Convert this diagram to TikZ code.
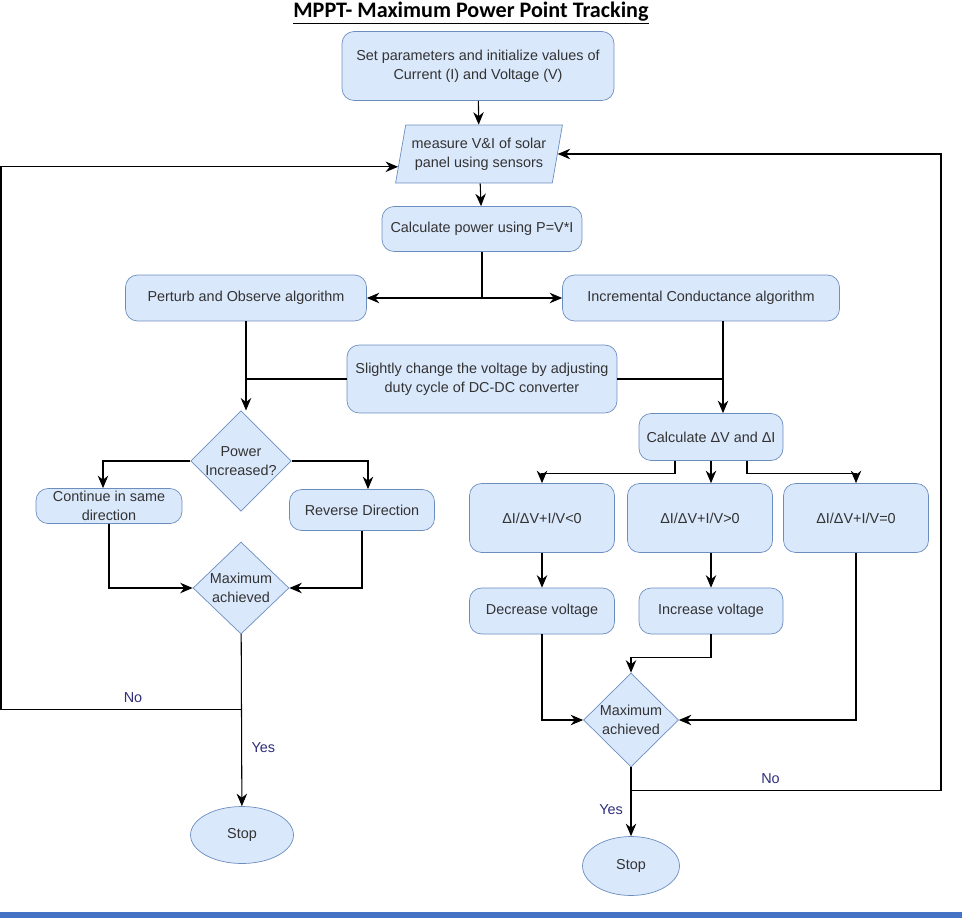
\documentclass[tikz,border=0pt]{standalone}
\usepackage{fontspec}
\setmainfont{Liberation Sans}
\newfontfamily\titlefont{Carlito}
\usetikzlibrary{shapes.geometric,arrows.meta,calc}

\definecolor{boxfill}{HTML}{DAE8FC}
\definecolor{boxline}{HTML}{6C8EBF}
\definecolor{labelcol}{HTML}{2E2E7A}
\definecolor{barcol}{HTML}{4472C4}

\tikzset{
  box/.style={draw=boxline, fill=boxfill, rounded corners=2.4mm, align=center,
    text=black!80, font=\fontsize{8.2}{10.8}\selectfont, inner sep=0pt},
  decision/.style={diamond, draw=boxline, fill=boxfill, align=center, inner sep=0pt,
    minimum width=1.92cm, minimum height=1.88cm, text=black!80,
    font=\fontsize{8.2}{10.8}\selectfont},
  terminal/.style={ellipse, draw=boxline, fill=boxfill, inner sep=0pt,
    text=black!80, font=\fontsize{8.2}{10.8}\selectfont},
  arr/.style={-{Stealth[length=2.5mm,width=2.1mm]}, line width=0.6pt},
  ln/.style={line width=0.6pt},
  answer/.style={text=labelcol, font=\fontsize{8.2}{9}\selectfont}
}

\begin{document}
\begin{tikzpicture}[x=0.02cm, y=-0.02cm]
		\useasboundingbox (0,0) rectangle (962,918);
		\fill[barcol] (0,912) rectangle (962,918);
		\node (title) at (471,13) {\titlefont\bfseries\fontsize{12.6}{14}\selectfont\underline{MPPT- Maximum Power Point Tracking}};
		% main column
		\node[box, minimum width=5.44cm, minimum height=1.38cm] (init) at (478,66) {Set parameters and initialize values of\\Current (I) and Voltage (V)};
		\node[trapezium, trapezium left angle=74, trapezium right angle=106, trapezium stretches=true,
		      draw=boxline, fill=boxfill, align=center, inner sep=0pt, minimum width=3.36cm, minimum height=1.16cm,
		      text=black!80, font=\fontsize{8.2}{10.8}\selectfont] (meas) at (479,154) {measure V\&I of solar\\panel using sensors};
		\node[box, minimum width=4cm, minimum height=0.9cm] (pow) at (482,229) {Calculate power using P=V*I};
		\node[box, minimum width=4.82cm, minimum height=0.92cm] (po) at (246,298) {Perturb and Observe algorithm};
		\node[box, minimum width=5.54cm, minimum height=0.92cm] (ic) at (701,298) {Incremental Conductance algorithm};
		\node[box, minimum width=5.4cm, minimum height=1.36cm] (slight) at (482,379) {Slightly change the voltage by adjusting\\duty cycle of DC-DC converter};
		% perturb and observe branch
		\node[decision] (pwr) at (241,461) {Power\\Increased?};
		\node[box, minimum width=2.92cm, minimum height=0.7cm] (cont) at (109,506) {Continue in same\\direction};
		\node[box, minimum width=2.9cm, minimum height=0.82cm] (rev) at (362,510) {Reverse Direction};
		\node[decision, minimum height=1.82cm] (maxL) at (241,588) {Maximum\\achieved};
		\node[terminal, minimum width=2.06cm, minimum height=1.14cm] (stopL) at (242,835) {Stop};
		% incremental conductance branch
		\node[box, minimum width=2.88cm, minimum height=0.94cm] (dvdi) at (711,437) {Calculate ΔV and ΔI};
		\node[box, minimum width=2.9cm, minimum height=1.38cm] (c1) at (542,518) {ΔI/ΔV+I/V<0};
		\node[box, minimum width=2.9cm, minimum height=1.38cm] (c2) at (700,518) {ΔI/ΔV+I/V>0};
		\node[box, minimum width=2.9cm, minimum height=1.38cm] (c3) at (856,518) {ΔI/ΔV+I/V=0};
		\node[box, minimum width=2.9cm, minimum height=0.92cm] (dec) at (542,611) {Decrease voltage};
		\node[box, minimum width=2.88cm, minimum height=0.92cm] (inc) at (711,611) {Increase voltage};
		\node[decision, minimum width=1.9cm, minimum height=1.88cm] (maxR) at (631,720) {Maximum\\achieved};
		\node[terminal, minimum width=1.94cm, minimum height=1.18cm] (stopR) at (631,866) {Stop};

		% connectors
		\draw[arr] (init) -- (meas);
		\draw[arr] (meas) -- (pow);
		\draw[arr] (pow.south) |- (po.east);
		\draw[arr] (pow.south) |- (ic.west);
		\draw[arr] (po.south) -- (po.south |- pwr.north);
		\draw[ln] (slight.west) -- (slight.west -| po.south);
		\coordinate (icdown) at ($(ic.south)+(22,0)$);
		\draw[arr] (icdown) -- (icdown |- dvdi.north);
		\draw[ln] (slight.east) -- (slight.east -| icdown);
		\draw[arr] (pwr.west) -| ([xshift=-0.12cm]cont.north);
		\draw[arr] (pwr.east) -| ([xshift=0.12cm]rev.north);
		\draw[arr] (cont.south) |- (maxL.west);
		\draw[arr] (rev.south) |- (maxL.east);
		\draw[arr] (maxL) -- node[answer, pos=0.66, right=2pt] {Yes} (stopL);
		\draw[arr] (maxL.south) ++(0,75) -- node[answer, above, pos=0.45] {No} ++(-240,0) |- (meas.189);
		\draw[arr] ([xshift=-0.72cm]dvdi.south) -- ++(0,13) -| (c1.north);
		\draw[arr] (dvdi.south) -- (dvdi.south |- c2.north);
		\draw[arr] ([xshift=0.72cm]dvdi.south) -- ++(0,13) -| (c3.north);
		\draw[arr] (c1) -- (dec);
		\draw[arr] (inc.north |- c2.south) -- (inc.north);
		\draw[arr] (dec.south) |- (maxR.west);
		\draw[arr] (inc.south) -- ++(0,23) -| (maxR.north);
		\draw[arr] (c3.south) |- (maxR.east);
		\draw[arr] (maxR) -- node[answer, pos=0.62, left=1pt] {Yes} (stopR);
		\draw[arr] (maxR.south) ++(0,23) -- node[answer, above, pos=0.45] {No} ++(310,0) |- (meas.east);
	\end{tikzpicture}
\end{document}
